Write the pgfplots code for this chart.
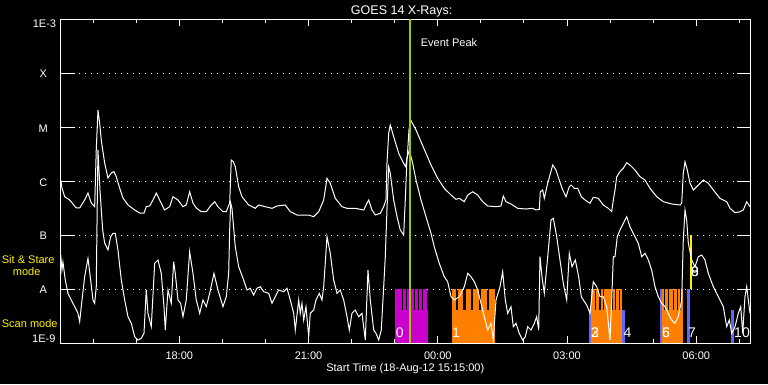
\documentclass[border=0pt]{standalone}
\usepackage{fontspec}
\setmainfont{Liberation Sans}
\usepackage{pgfplots}
\pgfplotsset{compat=1.18}
\definecolor{evgreen}{RGB}{153,204,0}
\definecolor{mag}{RGB}{204,0,204}
\definecolor{org}{RGB}{255,128,0}
\definecolor{blu}{RGB}{100,100,255}
\newcommand{\obsbar}[4]{\addplot[fill=#1,draw=none] coordinates {(#2,-9) (#2,#4) (#3,#4) (#3,-9)};}
\begin{document}
\begin{tikzpicture}[x=1pt,y=1pt]
\fill[black] (0,0) rectangle (768,384);
\useasboundingbox (0,0) rectangle (768,384);
\begin{axis}[
  at={(60.8pt,40.7pt)}, anchor=south west,
  scale only axis, width=689.9pt, height=324pt,
  xmin=15.25, xmax=31.264, ymin=-9, ymax=-3,
  axis line style={white, line width=1pt},
  xtick={18,21,24,27,30},
  xticklabels={18:00,21:00,00:00,03:00,06:00},
  minor xtick={16,17,19,20,22,23,25,26,28,29,31},
  major tick length=7pt, minor tick length=4pt,
  xtick style={white, line width=1pt},
  xticklabel style={text=white, font=\fontsize{11}{13}\selectfont, anchor=base, yshift=-15.7pt},
  ytick={-8,-7,-6,-5,-4},
  yticklabels={},
  ytick style={draw=none},
  ymajorgrids,
  major grid style={white, line width=1pt, dash pattern=on 1pt off 5pt},
  clip=true,
]
% observation bars
\obsbar{mag}{23.007}{23.766}{-8.383}
\obsbar{mag}{23.007}{23.070}{-8.0}
\obsbar{mag}{23.084}{23.170}{-8.0}
\obsbar{mag}{23.186}{23.262}{-8.0}
\obsbar{mag}{23.286}{23.455}{-8.0}
\obsbar{mag}{23.471}{23.548}{-8.0}
\obsbar{mag}{23.564}{23.641}{-8.0}
\obsbar{mag}{23.657}{23.743}{-8.0}
\obsbar{org}{24.323}{25.321}{-8.383}
\obsbar{org}{24.323}{24.416}{-8.0}
\obsbar{org}{24.469}{24.592}{-8.0}
\obsbar{org}{24.648}{24.778}{-8.0}
\obsbar{org}{24.825}{24.957}{-8.0}
\obsbar{org}{24.996}{25.136}{-8.0}
\obsbar{org}{25.196}{25.321}{-8.0}
\obsbar{blu}{27.517}{27.557}{-8.383}
\obsbar{org}{27.557}{28.270}{-8.383}
\obsbar{org}{27.557}{27.654}{-8.0}
\obsbar{org}{27.678}{27.754}{-8.0}
\obsbar{org}{27.778}{27.847}{-8.0}
\obsbar{org}{27.870}{27.940}{-8.0}
\obsbar{org}{27.963}{28.033}{-8.0}
\obsbar{org}{28.056}{28.119}{-8.0}
\obsbar{org}{28.142}{28.202}{-8.0}
\obsbar{org}{28.226}{28.270}{-8.0}
\obsbar{blu}{28.270}{28.340}{-8.383}
\obsbar{blu}{29.159}{29.198}{-8.0}
\obsbar{org}{29.198}{29.686}{-8.383}
\obsbar{org}{29.198}{29.251}{-8.0}
\obsbar{org}{29.275}{29.349}{-8.0}
\obsbar{org}{29.372}{29.449}{-8.0}
\obsbar{org}{29.472}{29.542}{-8.0}
\obsbar{org}{29.565}{29.627}{-8.0}
\obsbar{org}{29.651}{29.686}{-8.0}
\obsbar{blu}{29.778}{29.850}{-8.0}
\obsbar{blu}{30.807}{30.876}{-8.383}
\addplot[fill=yellow, draw=none] coordinates {(29.855,-8.0) (29.855,-7.0) (29.901,-7.0) (29.901,-8.0)};
% long channel
\addplot[white, line width=1pt] table {
15.249 -5.976
15.277 -6.124
15.340 -6.285
15.456 -6.346
15.609 -6.494
15.688 -6.494
15.804 -6.346
15.881 -6.217
15.957 -6.402
16.036 -6.470
16.073 -5.420
16.113 -4.680
16.152 -4.920
16.189 -5.235
16.268 -5.661
16.345 -5.939
16.422 -5.846
16.484 -5.822
16.538 -5.915
16.616 -6.124
16.693 -6.309
16.809 -6.439
16.965 -6.531
17.081 -6.587
17.181 -6.587
17.234 -6.470
17.313 -6.457
17.389 -6.346
17.466 -6.217
17.545 -6.346
17.661 -6.531
17.777 -6.470
17.854 -6.285
17.970 -6.346
18.086 -6.470
18.162 -6.439
18.241 -6.193
18.318 -6.402
18.395 -6.494
18.511 -6.563
18.627 -6.563
18.743 -6.439
18.822 -6.378
18.898 -6.470
19.014 -6.563
19.091 -6.563
19.170 -6.402
19.207 -5.606
19.254 -5.637
19.300 -5.730
19.379 -6.100
19.455 -6.285
19.611 -6.439
19.764 -6.500
19.843 -6.439
19.996 -6.470
20.152 -6.500
20.268 -6.457
20.461 -6.439
20.577 -6.563
20.732 -6.624
20.888 -6.624
21.004 -6.624
21.120 -6.656
21.236 -6.563
21.352 -6.346
21.429 -5.944
21.505 -6.037
21.621 -6.315
21.777 -6.470
21.893 -6.500
22.085 -6.500
22.281 -6.531
22.357 -6.407
22.397 -6.346
22.473 -6.531
22.550 -6.624
22.666 -6.593
22.745 -6.470
22.798 -6.346
22.821 -5.667
22.861 -5.111
22.898 -4.957
22.977 -5.174
23.093 -5.481
23.209 -5.667
23.255 -5.730
23.293 -5.544
23.332 -5.050
23.372 -4.865
23.495 -5.050
23.611 -5.267
23.727 -5.481
23.843 -5.698
23.998 -5.944
24.151 -6.130
24.307 -6.254
24.423 -6.333
24.500 -6.315
24.616 -6.378
24.695 -6.254
24.811 -6.193
24.927 -6.254
25.043 -6.378
25.159 -6.457
25.352 -6.470
25.468 -6.457
25.521 -6.272
25.584 -6.378
25.700 -6.420
25.855 -6.500
26.048 -6.513
26.204 -6.500
26.280 -6.531
26.357 -6.519
26.380 -6.193
26.436 -6.161
26.473 -6.315
26.552 -6.037
26.668 -5.698
26.744 -5.791
26.821 -5.976
26.900 -6.161
26.977 -6.285
27.053 -6.100
27.093 -6.069
27.169 -6.130
27.248 -6.130
27.332 -6.285
27.418 -6.346
27.534 -6.407
27.610 -6.296
27.726 -6.315
27.842 -6.439
27.958 -6.500
28.037 -6.563
28.075 -6.346
28.114 -6.161
28.154 -5.915
28.230 -5.822
28.307 -5.759
28.386 -5.656
28.462 -5.698
28.578 -5.791
28.694 -5.915
28.810 -5.976
28.926 -6.130
29.082 -6.285
29.235 -6.378
29.430 -6.420
29.623 -6.439
29.662 -6.407
29.699 -5.852
29.739 -5.637
29.792 -5.791
29.855 -6.037
29.932 -6.161
30.048 -6.069
30.164 -5.976
30.280 -6.037
30.396 -6.161
30.551 -6.315
30.707 -6.378
30.784 -6.500
30.900 -6.581
31.016 -6.563
31.092 -6.531
31.171 -6.378
31.248 -6.470
};
% short channel
\addplot[white, line width=1pt] table {
15.249 -7.365
15.277 -7.643
15.300 -7.494
15.354 -7.828
15.416 -8.074
15.493 -8.198
15.572 -8.322
15.649 -8.444
15.688 -8.600
15.725 -8.322
15.804 -7.767
15.881 -7.426
15.943 -7.828
15.997 -8.198
16.036 -8.259
16.073 -7.952
16.097 -6.346
16.113 -5.420
16.159 -6.161
16.222 -6.902
16.268 -7.143
16.345 -7.272
16.408 -7.026
16.461 -6.963
16.514 -6.963
16.577 -7.272
16.654 -7.828
16.733 -8.198
16.809 -8.507
16.886 -8.630
16.965 -8.878
17.041 -8.939
17.118 -8.907
17.181 -8.815
17.234 -8.013
17.273 -8.444
17.350 -8.693
17.429 -7.519
17.506 -7.457
17.582 -7.704
17.645 -8.322
17.675 -8.754
17.738 -8.013
17.814 -8.259
17.870 -7.489
17.907 -7.704
17.970 -8.198
18.032 -8.259
18.086 -8.507
18.162 -8.198
18.241 -7.304
18.318 -7.704
18.395 -8.198
18.474 -8.444
18.550 -8.198
18.627 -8.322
18.706 -8.074
18.806 -7.704
18.898 -8.013
19.014 -8.322
19.091 -8.137
19.147 -7.704
19.170 -6.902
19.193 -6.402
19.223 -6.500
19.300 -7.211
19.379 -7.581
19.495 -7.828
19.572 -8.013
19.648 -7.981
19.727 -8.106
19.804 -7.981
19.880 -7.952
19.959 -8.044
20.075 -8.074
20.152 -8.259
20.228 -8.137
20.307 -8.013
20.423 -8.044
20.500 -7.981
20.577 -8.198
20.656 -8.444
20.693 -8.754
20.772 -8.198
20.809 -8.444
20.848 -8.259
20.888 -8.569
20.941 -8.322
21.004 -8.878
21.041 -8.444
21.120 -8.383
21.173 -8.198
21.250 -8.074
21.313 -8.198
21.352 -7.952
21.429 -7.026
21.505 -7.333
21.584 -7.828
21.661 -8.074
21.737 -8.013
21.816 -8.198
21.893 -8.507
21.946 -8.754
22.009 -8.444
22.085 -8.383
22.164 -8.507
22.241 -8.444
22.318 -8.939
22.380 -7.643
22.434 -8.198
22.513 -8.754
22.566 -8.815
22.629 -8.939
22.689 -8.754
22.745 -7.952
22.782 -7.396
22.821 -6.531
22.861 -5.730
22.898 -5.852
22.977 -6.346
23.054 -6.656
23.130 -6.902
23.209 -6.994
23.246 -6.346
23.286 -5.569
23.339 -5.420
23.418 -5.667
23.495 -5.976
23.611 -6.346
23.727 -6.656
23.843 -6.963
23.919 -7.211
24.035 -7.519
24.151 -7.767
24.230 -7.859
24.307 -8.137
24.384 -8.198
24.500 -8.137
24.616 -7.952
24.695 -7.704
24.771 -7.767
24.848 -7.859
24.927 -8.013
25.003 -8.259
25.080 -8.507
25.159 -8.754
25.236 -8.630
25.289 -8.939
25.352 -8.198
25.445 -7.952
25.507 -7.674
25.568 -8.198
25.623 -8.444
25.700 -8.322
25.753 -8.693
25.816 -8.630
25.892 -8.815
25.971 -8.939
26.032 -8.878
26.087 -8.693
26.164 -8.754
26.241 -8.630
26.296 -8.507
26.343 -8.754
26.373 -7.396
26.419 -7.767
26.473 -8.074
26.552 -7.396
26.628 -6.717
26.682 -6.685
26.761 -7.026
26.837 -7.457
26.914 -7.889
26.993 -8.198
27.053 -7.333
27.116 -7.581
27.192 -7.457
27.271 -7.767
27.332 -8.137
27.378 -8.198
27.457 -8.291
27.534 -8.444
27.610 -7.859
27.689 -7.952
27.766 -8.137
27.842 -8.137
27.921 -8.322
27.998 -8.939
28.037 -8.198
28.075 -7.396
28.114 -7.396
28.167 -7.026
28.230 -6.902
28.307 -6.778
28.386 -6.656
28.462 -6.841
28.539 -6.963
28.655 -7.148
28.734 -7.396
28.810 -7.333
28.887 -7.457
28.966 -7.643
29.042 -7.952
29.119 -8.137
29.198 -8.259
29.275 -8.322
29.351 -8.444
29.430 -8.569
29.507 -8.630
29.583 -8.507
29.662 -8.198
29.699 -7.087
29.739 -6.531
29.778 -6.717
29.816 -7.148
29.894 -7.457
29.971 -7.581
30.048 -7.396
30.127 -7.365
30.203 -7.457
30.280 -7.704
30.396 -7.952
30.475 -8.074
30.551 -8.198
30.628 -8.322
30.707 -8.693
30.767 -8.569
30.823 -8.815
30.900 -8.693
30.976 -8.444
31.032 -8.322
31.078 -8.815
31.131 -8.137
31.171 -7.952
31.208 -8.198
31.248 -8.444
};
% event peak line
\addplot[evgreen, line width=2pt] coordinates {(23.348,-9) (23.348,-3)};
% y tick marks (left and right)
\draw[white, line width=1pt] (axis cs:15.25,-8) -- ++(14pt,0pt);
\draw[white, line width=1pt] (axis cs:15.25,-7) -- ++(14pt,0pt);
\draw[white, line width=1pt] (axis cs:15.25,-6) -- ++(14pt,0pt);
\draw[white, line width=1pt] (axis cs:15.25,-5) -- ++(14pt,0pt);
\draw[white, line width=1pt] (axis cs:15.25,-4) -- ++(14pt,0pt);
\draw[white, line width=1pt] (axis cs:31.264,-8) -- ++(-14pt,0pt);
\draw[white, line width=1pt] (axis cs:31.264,-7) -- ++(-14pt,0pt);
\draw[white, line width=1pt] (axis cs:31.264,-6) -- ++(-14pt,0pt);
\draw[white, line width=1pt] (axis cs:31.264,-5) -- ++(-14pt,0pt);
\draw[white, line width=1pt] (axis cs:31.264,-4) -- ++(-14pt,0pt);
\end{axis}
\begin{scope}[every node/.style={inner sep=0pt, text=white, font=\fontsize{11}{13}\selectfont}]
\node[anchor=base, font=\fontsize{12.5}{14}\selectfont] at (401.7,370) {GOES 14 X-Rays:};
\node[anchor=base west] at (420.7,337.3) {Event Peak};
\node[anchor=base] at (405.3,12.5) {Start Time (18-Aug-12 15:15:00)};
\node at (44.5,360.5) {1E-3};
\node at (43.3,310) {X};
\node at (43.3,255.7) {M};
\node at (43.3,201.7) {C};
\node at (43.3,148.2) {B};
\node at (43.3,94.3) {A};
\node at (43.8,44.8) {1E-9};
\node[anchor=base west, text=yellow] at (1.7,120.7) {Sit \& Stare};
\node[anchor=base west, text=yellow] at (12.7,109) {mode};
\node[anchor=base west, text=yellow] at (1.7,56.7) {Scan mode};
\end{scope}
\begin{scope}[every node/.style={inner sep=0pt, text=white, font=\fontsize{14}{16}\selectfont}]
\node at (399.7,51) {0};
\node at (456,51) {1};
\node at (595,51) {2};
\node at (595,51) {3};
\node at (627.5,51) {4};
\node at (666,51) {5};
\node at (666,51) {6};
\node at (692,51) {7};
\node at (695,112.3) {8};
\node at (695,112.3) {9};
\node at (742,51) {10};
\end{scope}
\end{tikzpicture}
\end{document}
